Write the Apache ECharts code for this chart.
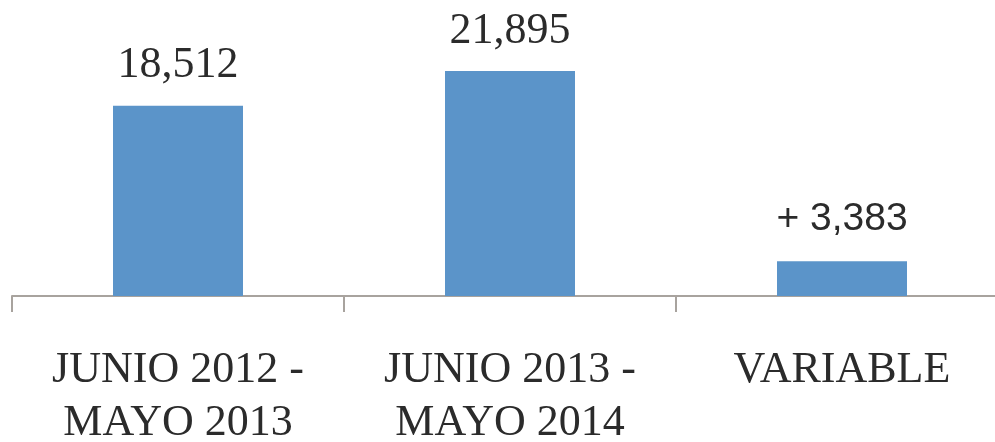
<!DOCTYPE html>
<html>
<head>
<meta charset="utf-8">
<script src="https://cdn.jsdelivr.net/npm/echarts@6/dist/echarts.min.js"></script>
<style>
html,body{margin:0;padding:0;background:#fff;overflow:hidden;}
#chart{width:995px;height:442px;}
</style>
</head>
<body>
<div id="chart"></div>
<script>
const categories = ['JUNIO 2012 -\nMAYO 2013', 'JUNIO 2013 -\nMAYO 2014', 'VARIABLE'];
const values = [18512, 21895, 3383];
const valueLabels = ['18,512', '21,895', '+ 3,383'];

const chart = echarts.init(document.getElementById('chart'), null, {renderer: 'canvas'});
const serif = 'Liberation Serif';
const sans = 'Liberation Sans';
chart.setOption({
  animation: false,
  backgroundColor: '#ffffff',
  grid: {left: 12, top: 0, width: 996, bottom: 146, containLabel: false, outerBoundsMode: 'none'},
  xAxis: {
    type: 'category',
    data: categories,
    boundaryGap: true,
    axisLine: {show: true, lineStyle: {color: '#a8a39e', width: 2}},
    axisTick: {show: true, length: 16, alignWithLabel: false, lineStyle: {color: '#a8a39e', width: 2}},
    axisLabel: {
      interval: 0,
      margin: 48,
      fontFamily: serif,
      fontSize: 44,
      lineHeight: 53,
      color: '#2b2b2b'
    }
  },
  yAxis: {
    type: 'value',
    min: 0,
    max: 28800,
    show: false,
    splitLine: {show: false}
  },
  series: [{
    type: 'bar',
    barWidth: 130,
    itemStyle: {color: '#5b94c9'},
    data: values.map((v, i) => ({
      value: v,
      label: {
        show: true,
        position: 'top',
        distance: i === 2 ? 22 : 18,
        formatter: valueLabels[i],
        fontFamily: i === 2 ? sans : serif,
        fontSize: i === 2 ? 39 : 44,
        color: '#2b2b2b'
      }
    }))
  }]
});
</script>
</body>
</html>
